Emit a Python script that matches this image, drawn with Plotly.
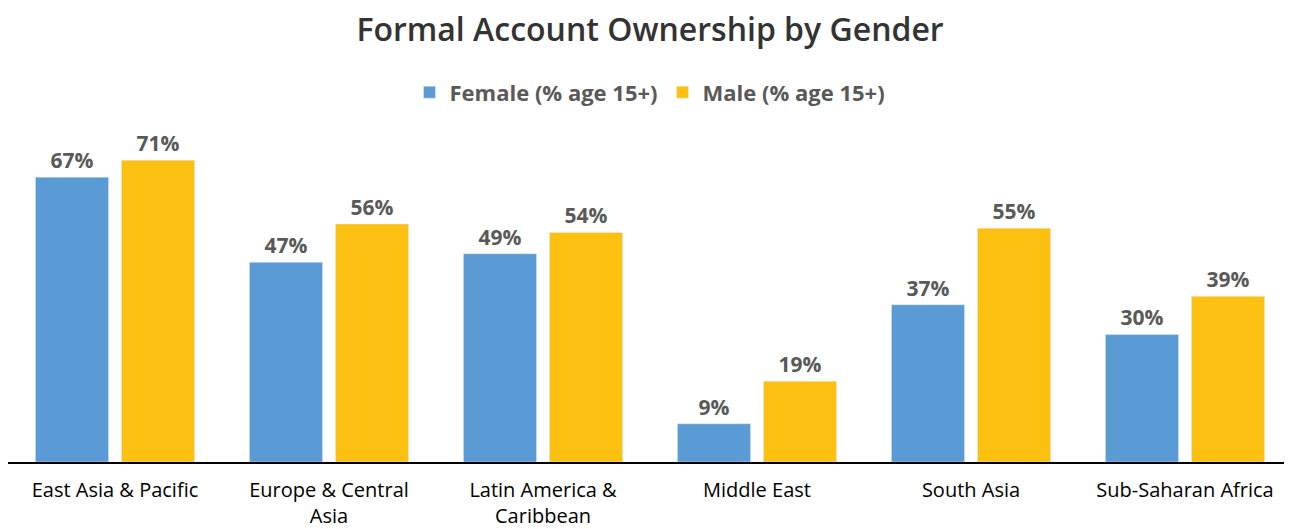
import plotly.graph_objects as go

categories = ["East Asia & Pacific", "Europe & Central<br>Asia", "Latin America &<br>Caribbean",
              "Middle East", "South Asia", "Sub-Saharan Africa"]
female = [67, 47, 49, 9, 37, 30]
male = [71, 56, 54, 19, 55, 39]

label_font = dict(family="Open Sans", size=21, color="#595959", weight="bold")

fig = go.Figure()
fig.add_trace(go.Bar(name="Female (% age 15+)", x=categories, y=female,
                     marker_color="#5B9BD5",
                     text=[f"{v}%" for v in female], textposition="outside",
                     textfont=label_font, cliponaxis=False))
fig.add_trace(go.Bar(name="Male (% age 15+)", x=categories, y=male,
                     marker_color="#FCC010",
                     text=[f"{v}%" for v in male], textposition="outside",
                     textfont=label_font, cliponaxis=False))

fig.update_layout(
    width=1284, height=521,
    margin=dict(l=0, r=0, t=102, b=67, autoexpand=False),
    paper_bgcolor="white", plot_bgcolor="white",
    title=dict(text="Formal Account Ownership by Gender", x=0.5, xanchor="center", y=0.958, yanchor="middle",
               font=dict(family="Open Sans", size=32, color="#333333", weight=600)),
    legend=dict(orientation="h", x=0.5, xanchor="center", y=1.05, yanchor="middle",
                font=dict(family="Open Sans", size=22, color="#595959", weight="bold"),
                itemwidth=30, traceorder="normal"),
    barmode="group", bargap=0.196, bargroupgap=0.15,
    uniformtext=dict(mode=False),
    xaxis=dict(showline=True, linecolor="black", linewidth=2, ticks="", automargin=False,
               tickfont=dict(family="Open Sans", size=20, color="black"),
               ticklabelstandoff=9, showgrid=False),
    yaxis=dict(visible=False, range=[0, 82.8], showgrid=False, zeroline=False, automargin=False),
)
fig.write_html("out.html")
